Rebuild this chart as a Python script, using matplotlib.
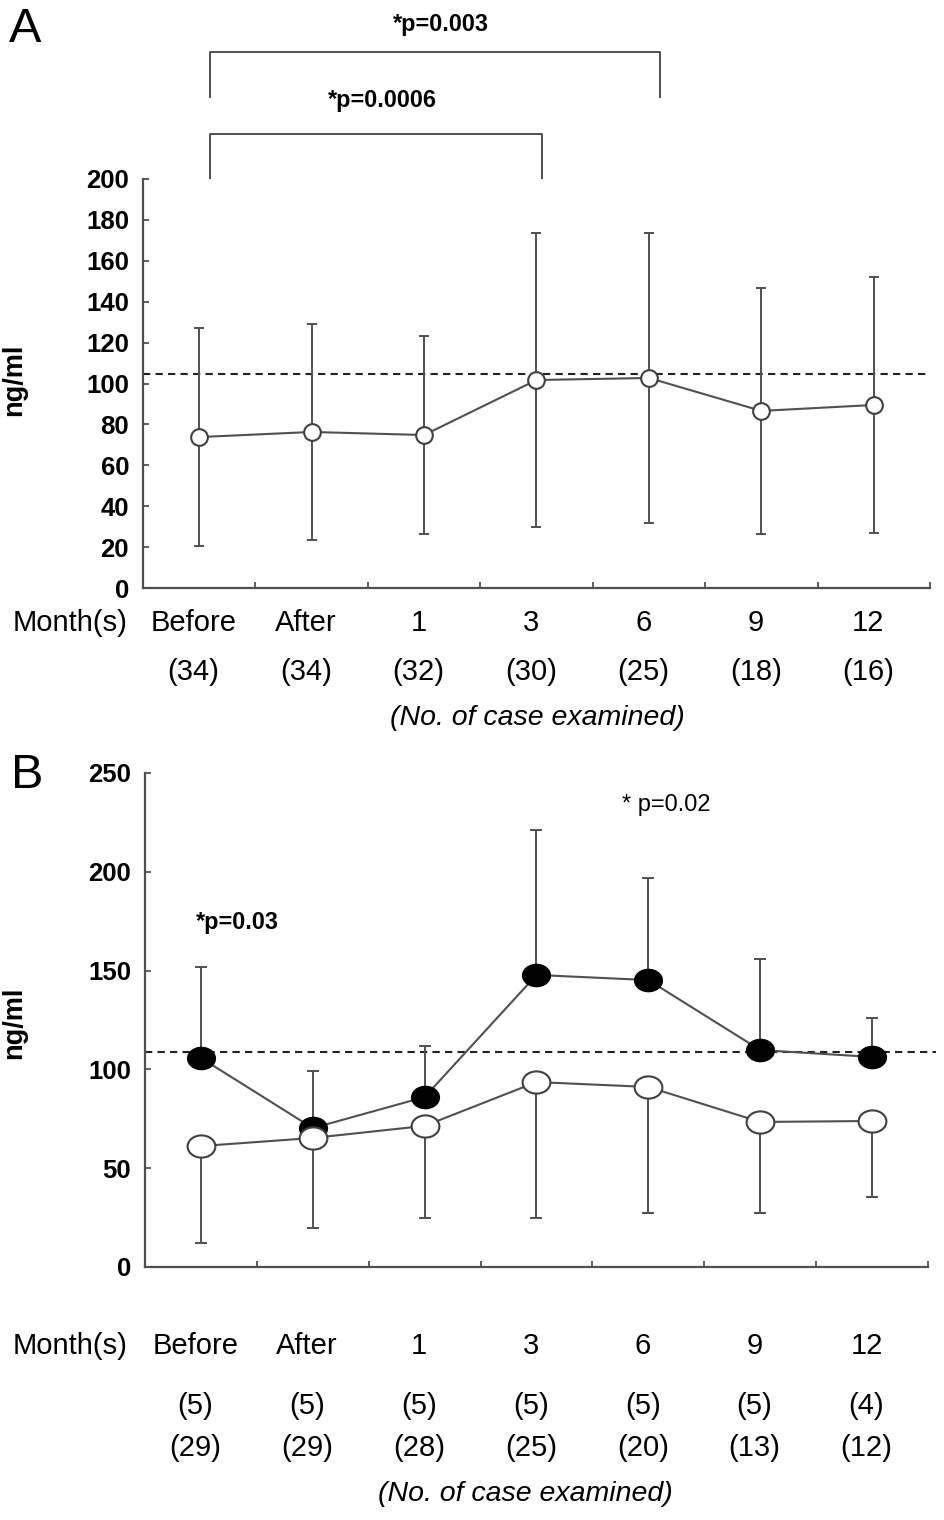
import matplotlib
matplotlib.use("Agg")
import matplotlib.pyplot as plt
import matplotlib.transforms as mtransforms
from matplotlib.path import Path

plt.rcParams['font.family'] = ['Liberation Sans', 'DejaVu Sans']

# data
months = ['Before', 'After', '1', '3', '6', '9', '12']

# panel A
a_mean = [73.8, 76.3, 74.8, 101.7, 102.7, 86.6, 89.5]
a_sd = [53.5, 53.0, 48.5, 72.0, 71.0, 60.0, 62.5]
a_ref = 104.6
a_n = ['(34)', '(34)', '(32)', '(30)', '(25)', '(18)', '(16)']

# panel B
b_fill_mean = [105.8, 70.3, 86.0, 147.8, 145.2, 109.8, 106.3]
b_fill_sd = [46.0, 29.0, 25.8, 73.2, 51.7, 46.1, 19.7]
b_open_mean = [61.2, 65.3, 71.4, 93.6, 91.1, 73.4, 73.9]
b_open_sd = [49.1, 45.6, 46.6, 68.8, 63.8, 46.1, 38.5]
b_ref = 108.8
b_n1 = ['(5)', '(5)', '(5)', '(5)', '(5)', '(5)', '(4)']
b_n2 = ['(29)', '(29)', '(28)', '(25)', '(20)', '(13)', '(12)']

W, H = 945, 1520
GREY = '#505050'
FS = 21   # size of the month / case texts
fig = plt.figure(figsize=(W / 100, H / 100), dpi=100)


def fy(p):
    # pixel row -> figure fraction
    return 1 - p / H


def setup_axes(ax, ymax, step):
    ax.set_xlim(0, 7)
    ax.set_ylim(0, ymax)
    for s in ['top', 'right']:
        ax.spines[s].set_visible(False)
    for s in ['left', 'bottom']:
        ax.spines[s].set_color(GREY)
        ax.spines[s].set_linewidth(1.6)
    ax.set_xticks(range(1, 8))
    ax.set_xticklabels([])
    ax.set_yticks(range(0, ymax + 1, step))
    ax.tick_params(axis='both', direction='in', length=4, width=1.3,
                   color=GREY)
    ax.tick_params(axis='y', pad=10, labelsize=18.5)
    for lab in ax.get_yticklabels():
        lab.set_fontweight('bold')
    ax.set_ylabel('ng/ml', fontsize=19.5, fontweight='bold')


xs = [i + 0.5 for i in range(len(months))]

# ---------------- panel A
axA = fig.add_axes([143 / W, fy(588), (930 - 143) / W, (588 - 179) / H])
setup_axes(axA, 200, 20)
axA.yaxis.set_label_coords(27 / W, fy(380), transform=fig.transFigure)
axA.axhline(a_ref, color='#222222', lw=1.5, ls=(0, (3.5, 2.5)), zorder=1)
axA.errorbar(xs, a_mean, yerr=a_sd, fmt='none', ecolor=GREY, elinewidth=1.4,
             capsize=3.5, capthick=1.4, zorder=2)
axA.plot(xs, a_mean, color=GREY, lw=1.5, marker='o', ms=12,
         mfc='white', mec='#404040', mew=1.5, zorder=3)

trA = mtransforms.blended_transform_factory(axA.transData, fig.transFigure)
for x, m, n in zip(xs, months, a_n):
    axA.text(x - 0.05, fy(623), m, transform=trA, ha='center', va='center',
             fontsize=FS)
    axA.text(x - 0.05, fy(672), n, transform=trA, ha='center', va='center',
             fontsize=FS)
fig.text(70 / W, fy(623), 'Month(s)', ha='center', va='center', fontsize=FS)
fig.text(537 / W, fy(718), '(No. of case examined)', ha='center',
         va='center', fontsize=20.5, style='italic')
fig.text(25 / W, fy(30), 'A', ha='center', va='center', fontsize=35)

# brackets above panel A
for x0, x1, ytop, ybot, label, ylab in [(0.6, 4.6, 52, 97, '*p=0.003', 25),
                                        (0.6, 3.55, 134, 178, '*p=0.0006', 100)]:
    axA.plot([x0, x0, x1, x1], [fy(ybot), fy(ytop), fy(ytop), fy(ybot)],
             transform=trA, color=GREY, lw=1.4, clip_on=False)
    axA.text((x0 + x1) / 2 + 0.05, fy(ylab), label, transform=trA,
             ha='center', va='center', fontsize=16.8, fontweight='bold')

# ---------------- panel B
axB = fig.add_axes([145 / W, fy(1267), (928 - 145) / W, (1267 - 773) / H])
setup_axes(axB, 250, 50)
axB.yaxis.set_label_coords(27 / W, fy(1023), transform=fig.transFigure)
axB.axhline(b_ref, xmax=1.01, color='#222222', lw=1.5, ls=(0, (3.5, 2.5)),
            zorder=1, clip_on=False)

circ = Path.unit_circle()
ellipse = Path(circ.vertices * [1, 0.8], circ.codes)

axB.errorbar(xs, b_fill_mean, yerr=[[0] * 7, b_fill_sd], fmt='none',
             ecolor=GREY, elinewidth=1.4, capsize=4.5, capthick=1.4, zorder=2)
axB.errorbar(xs, b_open_mean, yerr=[b_open_sd, [0] * 7], fmt='none',
             ecolor=GREY, elinewidth=1.4, capsize=4.5, capthick=1.4, zorder=2)
axB.plot(xs, b_fill_mean, color=GREY, lw=1.5, marker=ellipse, ms=20,
         mfc='black', mec='black', mew=1.0, zorder=3)
axB.plot(xs, b_open_mean, color=GREY, lw=1.5, marker=ellipse, ms=20,
         mfc='white', mec='#404040', mew=1.5, zorder=4)

trB = mtransforms.blended_transform_factory(axB.transData, fig.transFigure)
for x, m, n1, n2 in zip(xs, months, b_n1, b_n2):
    axB.text(x - 0.05, fy(1346), m, transform=trB, ha='center', va='center',
             fontsize=FS)
    axB.text(x - 0.05, fy(1406), n1, transform=trB, ha='center', va='center',
             fontsize=FS)
    axB.text(x - 0.05, fy(1448), n2, transform=trB, ha='center', va='center',
             fontsize=FS)
fig.text(70 / W, fy(1346), 'Month(s)', ha='center', va='center', fontsize=FS)
fig.text(525 / W, fy(1494), '(No. of case examined)', ha='center',
         va='center', fontsize=20.5, style='italic')
fig.text(27 / W, fy(776), 'B', ha='center', va='center', fontsize=35)

fig.text(237 / W, fy(922), '*p=0.03', ha='center', va='center',
         fontsize=16.8, fontweight='bold')
fig.text(666 / W, fy(805), '* p=0.02', ha='center', va='center',
         fontsize=17)

fig.savefig('out.png', dpi=100)
